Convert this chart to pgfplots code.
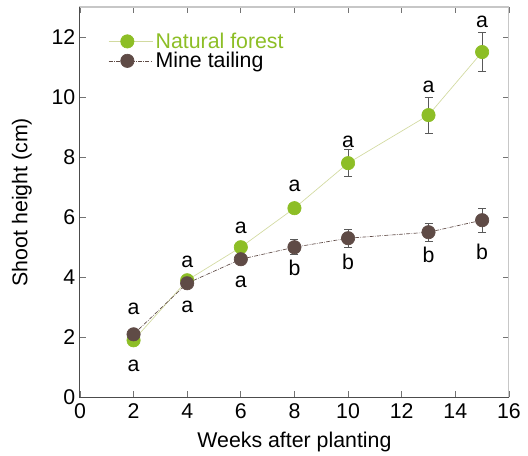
\documentclass[border=0pt]{standalone}
\usepackage{pgfplots}
\pgfplotsset{compat=1.18}
\usepackage{fontspec}
\setmainfont{Liberation Sans}
\definecolor{nf}{RGB}{141,190,38}
\definecolor{nfline}{RGB}{210,218,160}
\definecolor{mt}{RGB}{95,75,70}
\begin{document}
\begin{tikzpicture}
\begin{axis}[
  name=ax,
  scale only axis, width=322pt, height=293pt,
  xmin=0, xmax=16, ymin=0, ymax=13,
  xtick={0,2,...,16}, ytick={0,2,...,12},
  tick align=inside, major tick length=4.5pt,
  tick style={black!55, line width=0.6pt},
  axis line style={black!22, line width=0.8pt},
  font=\fontsize{16}{19}\selectfont,
  /pgf/number format/assume math mode=true,
  xticklabel style={yshift=-1.5pt},
  xlabel={Weeks after planting}, ylabel={Shoot height (cm)},
  xlabel style={yshift=-3pt}, ylabel style={yshift=8pt},
  legend style={draw=none, fill=none, at={(axis cs:1.05,11.53)}, anchor=west,
    font=\fontsize{16}{18}\selectfont, row sep=-2.5pt, inner sep=0pt},
  legend cell align=left,
  legend image code/.code={\draw[#1] (0pt,0pt)--(33pt,0pt); \draw[#1, mark repeat=1] plot coordinates {(14pt,0pt)};},
  clip=false,
]
\addplot[nfline, line width=0.5pt, mark=*, mark size=5pt, mark options={draw=nf, fill=nf},
  error bars/.cd, y dir=both, y explicit, error bar style={black!65, line width=0.7pt}, error mark options={rotate=90, mark size=3pt, black!65}]
  coordinates {(2,1.9) +- (0,0.05) (4,3.9) +- (0,0.05) (6,5.0) +- (0,0.1) (8,6.3) +- (0,0.1) (10,7.8) +- (0,0.45) (13,9.4) +- (0,0.6) (15,11.5) +- (0,0.65)};
\addlegendentry{\textcolor{nf}{Natural forest}}
\addplot[mt, line width=0.5pt, densely dashdotted, mark=*, mark size=5pt, mark options={solid, draw=mt, fill=mt},
  error bars/.cd, y dir=both, y explicit, error bar style={black!65, line width=0.7pt, solid}, error mark options={rotate=90, mark size=3pt, black!65}]
  coordinates {(2,2.1) +- (0,0.05) (4,3.8) +- (0,0.05) (6,4.6) +- (0,0.15) (8,5.0) +- (0,0.25) (10,5.3) +- (0,0.3) (13,5.5) +- (0,0.3) (15,5.9) +- (0,0.4)};
\addlegendentry{Mine tailing}
\draw[black!70, line width=0.8pt] (rel axis cs:0,1)--(rel axis cs:0,0)--(rel axis cs:1,0);
\begin{scope}[every node/.style={font=\fontsize{16}{19}\selectfont}]
\node at (axis cs:2,2.95) {a};
\node at (axis cs:2,1.05) {a};
\node at (axis cs:4,4.5) {a};
\node at (axis cs:4,3.0) {a};
\node at (axis cs:6,5.65) {a};
\node at (axis cs:6,3.85) {a};
\node at (axis cs:8,7.05) {a};
\node at (axis cs:8,4.3) {b};
\node at (axis cs:10,8.5) {a};
\node at (axis cs:10,4.5) {b};
\node at (axis cs:13,10.35) {a};
\node at (axis cs:13,4.75) {b};
\node at (axis cs:15,12.5) {a};
\node at (axis cs:15,4.85) {b};
\end{scope}
\end{axis}
\pgfresetboundingbox
\path ([xshift=-60pt,yshift=-43.5pt]ax.south west) rectangle ([xshift=14.3pt,yshift=5.25pt]ax.north east);
\end{tikzpicture}
\end{document}
